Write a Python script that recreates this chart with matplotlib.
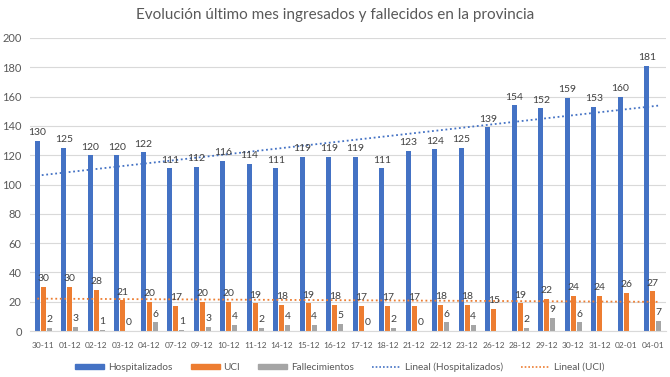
import matplotlib
matplotlib.use("Agg")
import matplotlib.pyplot as plt
import numpy as np
from matplotlib.patches import Patch
from matplotlib.lines import Line2D

plt.rcParams['font.family'] = ['Lato', 'DejaVu Sans']

fechas = ["30-11","01-12","02-12","03-12","04-12","07-12","09-12","10-12","11-12","14-12",
          "15-12","16-12","17-12","18-12","21-12","22-12","23-12","26-12","28-12","29-12",
          "30-12","31-12","02-01","04-01"]
hospitalizados = [130,125,120,120,122,111,112,116,114,111,119,119,119,111,123,124,125,139,154,152,159,153,160,181]
uci = [30,30,28,21,20,17,20,20,19,18,19,18,17,17,17,18,18,15,19,22,24,24,26,27]
fallecimientos = [2,3,1,0,6,1,3,4,2,4,4,5,0,2,0,6,4,None,2,9,6,None,None,7]

BLUE = "#4472C4"; ORANGE = "#ED7D31"; GRAY = "#A5A5A5"; TXT = "#404040"

fig = plt.figure(figsize=(6.7, 3.77), dpi=100)
ax = fig.add_axes([30/670, 1-331/377, 636/670, 293/377])

x = np.arange(len(fechas))
w = 0.18; step = 0.225
fall_vals = [np.nan if v is None else v for v in fallecimientos]
ax.bar(x - step, hospitalizados, w, color=BLUE, zorder=2)
ax.bar(x, uci, w, color=ORANGE, zorder=2)
ax.bar(x + step, fall_vals, w, color=GRAY, zorder=2)

for xs, vals in [(x - step, hospitalizados), (x, uci), (x + step, fallecimientos)]:
    for xi, v in zip(xs, vals):
        if v is None:
            continue
        ax.text(xi, v + 2.5, str(v), ha='center', va='bottom', fontsize=7.5, color=TXT, zorder=4)

# linear trendlines
ph = np.polyfit(x, hospitalizados, 1)
pu = np.polyfit(x, uci, 1)
xt = np.array([x[0] - step, x[-1] + step])
ax.plot(xt, np.polyval(ph, xt), linestyle=(0, (1, 1.5)), color=BLUE, lw=1.3, zorder=3)
ax.plot(xt, np.polyval(pu, xt), linestyle=(0, (1, 1.5)), color=ORANGE, lw=1.3, zorder=3)

ax.set_xlim(-0.5, len(fechas) - 0.5)
ax.set_ylim(0, 200)
ax.set_yticks(range(0, 201, 20))
ax.set_xticks(x)
ax.set_xticklabels(fechas)
ax.tick_params(axis='x', length=0, labelsize=6, colors="#595959", pad=8)
ax.tick_params(axis='y', length=0, labelsize=8, colors="#595959", pad=6)
ax.grid(axis='y', color="#D9D9D9", lw=0.8, zorder=0)
for s in ['top', 'right', 'left']:
    ax.spines[s].set_visible(False)
ax.spines['bottom'].set_color("#D9D9D9")

fig.text(0.5, 1 - 15/377, "Evolución último mes ingresados y fallecidos en la provincia",
         ha='center', va='center', fontsize=11, color="#595959")

handles = [Patch(color=BLUE, label="Hospitalizados"),
           Patch(color=ORANGE, label="UCI"),
           Patch(color=GRAY, label="Fallecimientos"),
           Line2D([], [], color=BLUE, linestyle=(0, (1, 1.2)), lw=1.2, label="Lineal (Hospitalizados)"),
           Line2D([], [], color=ORANGE, linestyle=(0, (1, 1.2)), lw=1.2, label="Lineal (UCI)")]
leg = fig.legend(handles=handles, loc='center', bbox_to_anchor=(340/670, 1 - 367/377), ncol=5,
                 frameon=False, fontsize=7.2, handlelength=2.9, handleheight=0.4,
                 columnspacing=1.8, handletextpad=0.4, borderpad=0.2)
for t in leg.get_texts():
    t.set_color("#595959")

fig.savefig("out.png", dpi=100)
